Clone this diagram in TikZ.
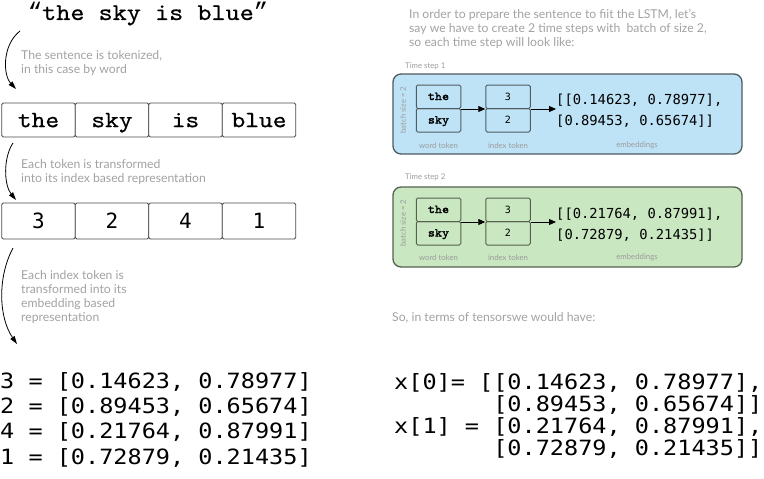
\documentclass[tikz,border=0pt]{standalone}
\usepackage{fontspec}
\setmainfont{Lato}
\newfontfamily\cour[FakeStretch=1.12,FakeBold=0.6]{lmmono10-regular.otf}
\newfontfamily\courbold[FakeStretch=1.12,FakeBold=2]{lmmono10-regular.otf}
\newfontfamily\quotefont{Liberation Mono}
\newfontfamily\mono{DejaVu Sans Mono}
\newfontfamily\monow[FakeStretch=1.12]{DejaVu Sans Mono}
\usetikzlibrary{arrows.meta}
\definecolor{notegray}{HTML}{A2A2A2}
\definecolor{tinygray}{HTML}{9C9C9C}
\definecolor{bluefill}{HTML}{BEE3F6}
\definecolor{blueedge}{HTML}{4E5B61}
\definecolor{greenfill}{HTML}{C9E7C1}
\definecolor{greenedge}{HTML}{56604F}
\definecolor{boxedge}{HTML}{4A4A4A}
\tikzset{
  note/.style={anchor=west, align=left, inner sep=0pt, text=notegray, font=\fontsize{12.2}{14}\selectfont},
  tiny/.style={inner sep=0pt, text=tinygray, font=\fontsize{7.8}{8}\selectfont},
  tok/.style={draw=boxedge, line width=0.8pt, rounded corners=1.5pt, minimum width=73.5pt, minimum height=34pt, inner sep=0pt, fill=white, text height=14.3pt, text depth=0pt, font=\cour\fontsize{23.4}{23.4}\selectfont},
  idx/.style={draw=boxedge, line width=0.8pt, rounded corners=1.5pt, minimum width=73.5pt, minimum height=36pt, inner sep=0pt, fill=white, font=\mono\fontsize{21}{21}\selectfont},
  code/.style={anchor=west, inner sep=0pt, font=\monow\fontsize{21}{21}\selectfont},
  tsbox/.style={line width=1.3pt, rounded corners=8pt, minimum width=349pt, minimum height=80pt, inner sep=0pt},
  wbox/.style={draw=#1, line width=1pt, rounded corners=1.5pt, minimum width=44.5pt, minimum height=23.5pt, inner sep=0pt, text height=7.5pt, text depth=1pt, font=\courbold\fontsize{12}{12}\selectfont},
  ibox/.style={draw=#1, line width=1pt, rounded corners=1.5pt, minimum width=44.5pt, minimum height=23.5pt, inner sep=0pt, font=\mono\fontsize{10}{10}\selectfont},
  emb/.style={anchor=west, align=left, inner sep=0pt, font=\mono\fontsize{13.8}{21}\selectfont},
  arr/.style={-{Triangle[length=7pt,width=6pt]}, line width=0.9pt},
  carr/.style={-{Triangle[length=8pt,width=5pt]}, line width=0.8pt},
}
\begin{document}
\begin{tikzpicture}[x=1pt,y=-1pt]
\useasboundingbox (0,0) rectangle (764,479);

% ---------------- left column ----------------
\node[inner sep=0pt, font=\cour\fontsize{24}{24}\selectfont] (title) at (148,14) {{\quotefont “}the sky is blue{\quotefont ”}};

\coordinate (a1s) at (20,31);
\coordinate (a1e) at (16,89);
\draw[carr] (a1s) .. controls (2,45) and (3,75) .. (a1e);
\node[note] (n1) at (21,63) {The sentence is tokenized,\\in this case by word};

\node[tok] (t1) at (38.5,120) {the};
\node[tok] (t2) at (112,120) {sky};
\node[tok] (t3) at (185.5,120) {is};
\node[tok] (t4) at (259,120) {blue};

\coordinate (a2s) at (13,143);
\coordinate (a2e) at (16,200);
\draw[carr] (a2s) .. controls (3,158) and (4,185) .. (a2e);
\node[note] (n2) at (21,172) {Each token is transformed\\into its index based representation};

\node[idx] (i1) at (38.5,221) {3};
\node[idx] (i2) at (112,221) {2};
\node[idx] (i3) at (185.5,221) {4};
\node[idx] (i4) at (259,221) {1};

\coordinate (a3s) at (13,248);
\coordinate (a3e) at (17,344);
\draw[carr] (a3s) .. controls (-3,278) and (-1,318) .. (a3e);
\node[note] (n3) at (21,297) {Each index token is\\transformed into its\\embedding based\\representation};

\node[code] (l1) at (0,382) {3 = [0.14623, 0.78977]};
\node[code] (l2) at (0,407) {2 = [0.89453, 0.65674]};
\node[code] (l3) at (0,432) {4 = [0.21764, 0.87991]};
\node[code] (l4) at (0,458) {1 = [0.72879, 0.21435]};

% ---------------- right column ----------------
\node[note] (intro) at (409,29) {In order to prepare the sentence to fiit the LSTM, let's\\say we have to create 2 time steps with \ batch of size 2,\\so each time step will look like:};

% time step 1
\node[tiny, anchor=west] (ts1lab) at (405,66) {Time step 1};
\node[tsbox, draw=blueedge, fill=bluefill] (ts1) at (567.5,114) {};
\node[tiny, rotate=90] (bs1) at (403,110) {batch size = 2};
\node[wbox=blueedge] (w1a) at (438.5,96.75) {the};
\node[wbox=blueedge] (w1b) at (438.5,120.25) {sky};
\node[ibox=blueedge] (x1a) at (508,96.75) {3};
\node[ibox=blueedge] (x1b) at (508,120.25) {2};
\node[emb] (e1) at (556,111) {[[0.14623, 0.78977],\\{}[0.89453, 0.65674]]};
\draw[arr] (w1a.south east) -- (x1a.south west);
\draw[arr] (x1a.south east) -- (e1.west |- x1a.south east);
\node[tiny] (wt1) at (438.5,146) {word token};
\node[tiny] (it1) at (508,146) {index token};
\node[tiny] (eb1) at (637,145) {embeddings};

% time step 2
\node[tiny, anchor=west] (ts2lab) at (405,177) {Time step 2};
\node[tsbox, draw=greenedge, fill=greenfill] (ts2) at (567.5,227) {};
\node[tiny, rotate=90] (bs2) at (403,223) {batch size = 2};
\node[wbox=greenedge] (w2a) at (438.5,209.75) {the};
\node[wbox=greenedge] (w2b) at (438.5,233.25) {sky};
\node[ibox=greenedge] (x2a) at (508,209.75) {3};
\node[ibox=greenedge] (x2b) at (508,233.25) {2};
\node[emb] (e2) at (556,225) {[[0.21764, 0.87991],\\{}[0.72879, 0.21435]]};
\draw[arr] (w2a.south east) -- (x2a.south west);
\draw[arr] (x2a.south east) -- (e2.west |- x2a.south east);
\node[tiny] (wt2) at (438.5,258) {word token};
\node[tiny] (it2) at (508,258) {index token};
\node[tiny] (eb2) at (637,257) {embeddings};

\node[note] (so) at (392,318) {So, in terms of tensorswe would have:};

\node[code] (r1) at (394,383) {x[0]= [[0.14623, 0.78977],};
\node[code] (r2) at (394,405) {\hphantom{x[1] = }[0.89453, 0.65674]]};
\node[code] (r3) at (394,427) {x[1] = [0.21764, 0.87991],};
\node[code] (r4) at (394,449) {\hphantom{x[1] = }[0.72879, 0.21435]]};
\end{tikzpicture}
\end{document}
